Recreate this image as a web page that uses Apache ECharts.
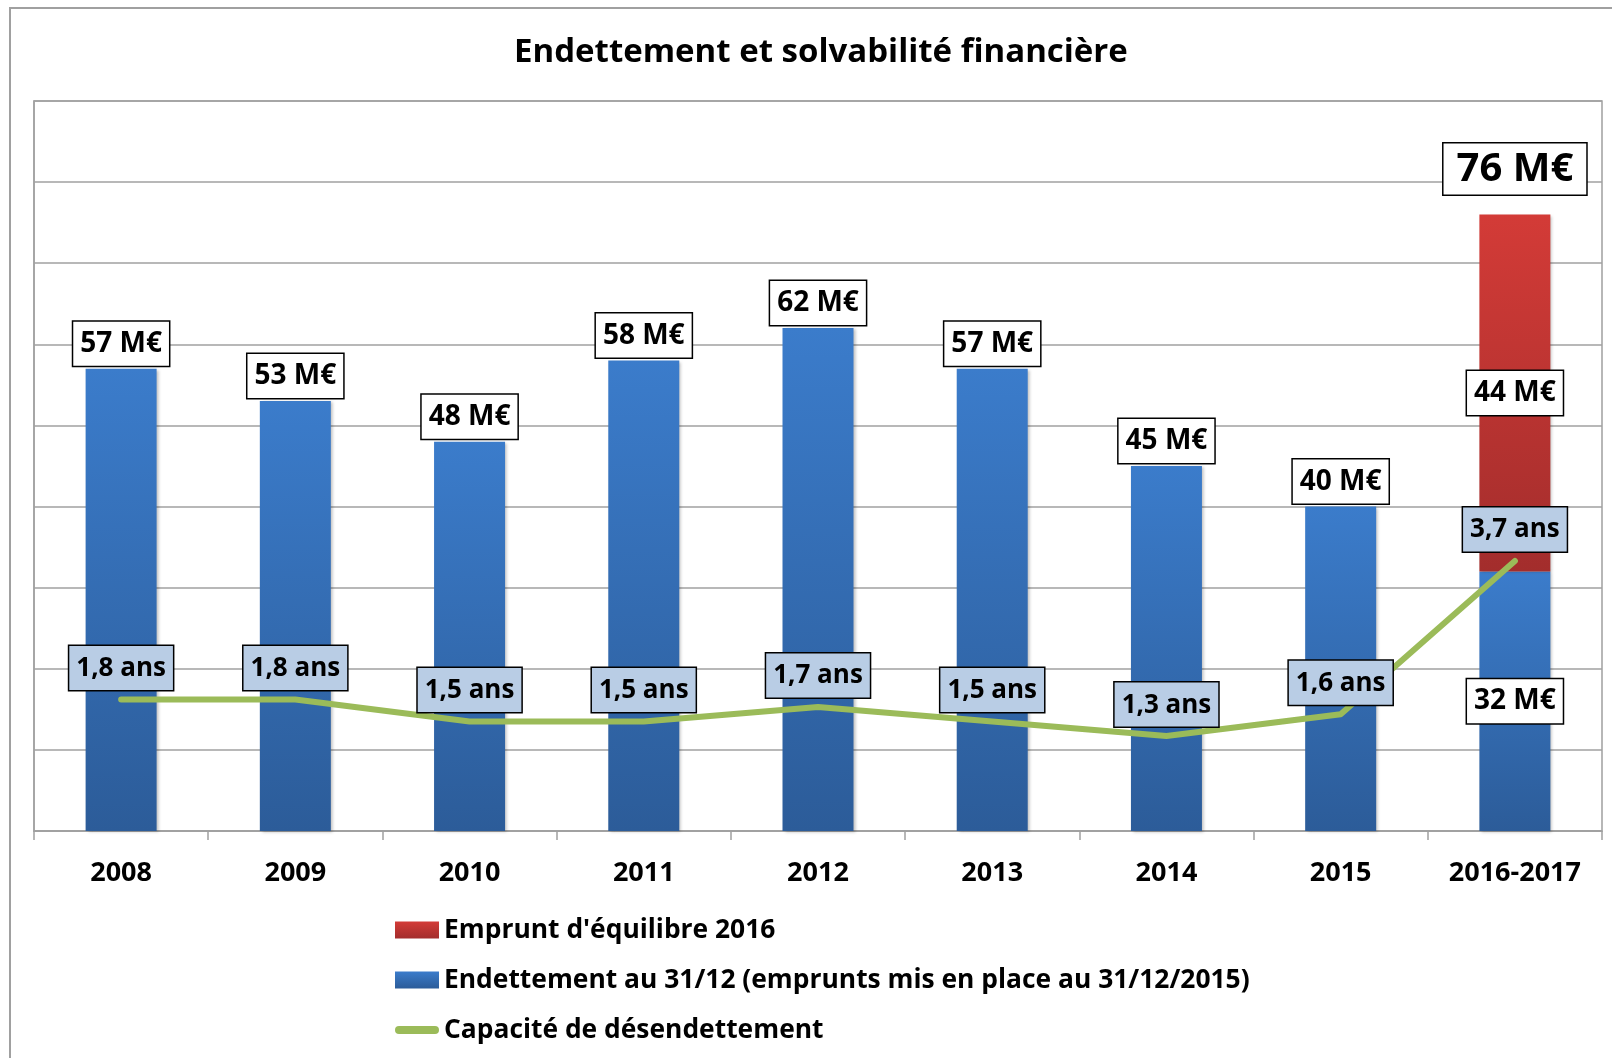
<!DOCTYPE html>
<html>
<head>
<meta charset="utf-8">
<title>Endettement et solvabilité financière</title>
<script src="https://cdn.jsdelivr.net/npm/echarts@6.0.0/dist/echarts.min.js"></script>
<style>
  html, body { margin: 0; padding: 0; background: #fff; }
  #chart { width: 1612px; height: 1058px; }
</style>
</head>
<body>
<div id="chart"></div>
<script>
// données
var categories = ['2008', '2009', '2010', '2011', '2012', '2013', '2014', '2015', '2016-2017'];
var endettement = [57, 53, 48, 58, 62, 57, 45, 40, 32];          // M€
var emprunt = [null, null, null, null, null, null, null, null, 44]; // M€
var capacite = [1.8, 1.8, 1.5, 1.5, 1.7, 1.5, 1.3, 1.6, 3.7];      // ans

var FONT = '"Open Sans", "Noto Sans", sans-serif';
var last = categories.length - 1;

var chart = echarts.init(document.getElementById('chart'));

var boxLabel = {
  show: true,
  fontFamily: FONT,
  fontSize: 28,
  fontWeight: 'bold',
  color: '#000',
  lineHeight: 34,
  backgroundColor: '#fff',
  borderColor: '#000',
  borderWidth: 1.5,
  padding: [5, 7, 5, 7]
};

var blueGrad = new echarts.graphic.LinearGradient(0, 0, 0, 1, [
  { offset: 0, color: '#3B7CCB' },
  { offset: 1, color: '#2C5C99' }
]);
var redGrad = new echarts.graphic.LinearGradient(0, 0, 0, 1, [
  { offset: 0, color: '#D33B37' },
  { offset: 1, color: '#A32D2C' }
]);
var barShadow = {
  shadowColor: 'rgba(0,0,0,0.25)',
  shadowBlur: 3,
  shadowOffsetX: 2,
  shadowOffsetY: 1
};

var option = {
  animation: false,
  title: {
    text: 'Endettement et solvabilité financière',
    left: 514,
    top: 36,
    padding: 0,
    textStyle: { fontFamily: FONT, fontSize: 33, fontWeight: 'bold', color: '#000' }
  },
  graphic: [{
    type: 'rect',
    silent: true,
    z: -1,
    shape: { x: 10, y: 8, width: 1700, height: 1200 },
    style: { fill: 'none', stroke: '#A0A0A0', lineWidth: 2 }
  }],
  legend: {
    orient: 'vertical',
    left: 390,
    top: 910,
    itemWidth: 44,
    itemHeight: 17,
    itemGap: 20,
    selectedMode: false,
    textStyle: { fontFamily: FONT, fontSize: 26.4, fontWeight: 'bold', color: '#000', lineHeight: 30 },
    data: [
      { name: "Emprunt d'équilibre 2016", icon: 'rect' },
      { name: 'Endettement au 31/12 (emprunts mis en place au 31/12/2015)', icon: 'rect' },
      {
        name: 'Capacité de désendettement',
        icon: 'path://M4,0H40A4,4,0,0,1,40,8H4A4,4,0,0,1,4,0Z',
        itemStyle: { color: '#9BBB59' }
      }
    ]
  },
  grid: {
    left: 34,
    top: 101,
    right: 10,
    bottom: 227,
    show: true,
    borderColor: '#A0A0A0',
    borderWidth: 1.5,
    outerBoundsMode: 'none'
  },
  xAxis: {
    type: 'category',
    data: categories,
    axisLine: { lineStyle: { color: '#A0A0A0', width: 1.5 } },
    axisTick: { show: true, length: 9, lineStyle: { color: '#A0A0A0', width: 1.5 } },
    axisLabel: {
      margin: 29,
      fontFamily: FONT,
      fontSize: 27,
      fontWeight: 'bold',
      color: '#000'
    }
  },
  yAxis: [{
    type: 'value',
    min: 0,
    max: 90,
    interval: 10,
    axisLabel: { show: false },
    axisTick: { show: false },
    axisLine: { show: true, lineStyle: { color: '#A0A0A0', width: 1.5 } },
    splitLine: { lineStyle: { color: '#A0A0A0', width: 1.5 } }
  }, {
    type: 'value',
    min: 0,
    max: 10,
    show: false,
    splitLine: { show: false }
  }],
  series: [{
    name: 'Endettement au 31/12 (emprunts mis en place au 31/12/2015)',
    type: 'bar',
    stack: 'dette',
    barWidth: 71,
    itemStyle: Object.assign({ color: blueGrad }, barShadow),
    label: Object.assign({}, boxLabel, {
      position: 'top',
      distance: 3,
      formatter: function (p) { return p.value + ' M€'; }
    }),
    data: endettement.map(function (v, i) {
      return i === last ? { value: v, label: { position: 'inside' } } : v;
    })
  }, {
    name: "Emprunt d'équilibre 2016",
    type: 'bar',
    stack: 'dette',
    barWidth: 71,
    itemStyle: Object.assign({ color: redGrad }, barShadow),
    label: Object.assign({}, boxLabel, {
      position: 'inside',
      formatter: function (p) { return p.value + ' M€'; }
    }),
    data: emprunt
  }, {
    name: 'Total',
    type: 'bar',
    stack: 'dette',
    barWidth: 71,
    itemStyle: { color: 'transparent' },
    label: Object.assign({}, boxLabel, {
      position: 'top',
      distance: 20,
      fontSize: 40,
      lineHeight: 44,
      padding: [4, 13, 3, 13],
      formatter: function (p) {
        return (endettement[p.dataIndex] + emprunt[p.dataIndex]) + ' M€';
      }
    }),
    data: emprunt.map(function (v) { return v == null ? null : 0; })
  }, {
    name: 'Capacité de désendettement',
    type: 'line',
    yAxisIndex: 1,
    z: 5,
    showSymbol: true,
    symbol: 'circle',
    symbolSize: 1,
    lineStyle: { color: '#9BBB59', width: 6, cap: 'round', join: 'round' },
    itemStyle: { color: '#9BBB59' },
    label: Object.assign({}, boxLabel, {
      position: 'top',
      distance: 9,
      fontSize: 26,
      lineHeight: 33,
      padding: [6, 7, 5, 7],
      backgroundColor: '#B9CDE5',
      formatter: function (p) { return String(p.value).replace('.', ',') + ' ans'; }
    }),
    data: capacite
  }]
};

chart.setOption(option);
</script>
</body>
</html>
